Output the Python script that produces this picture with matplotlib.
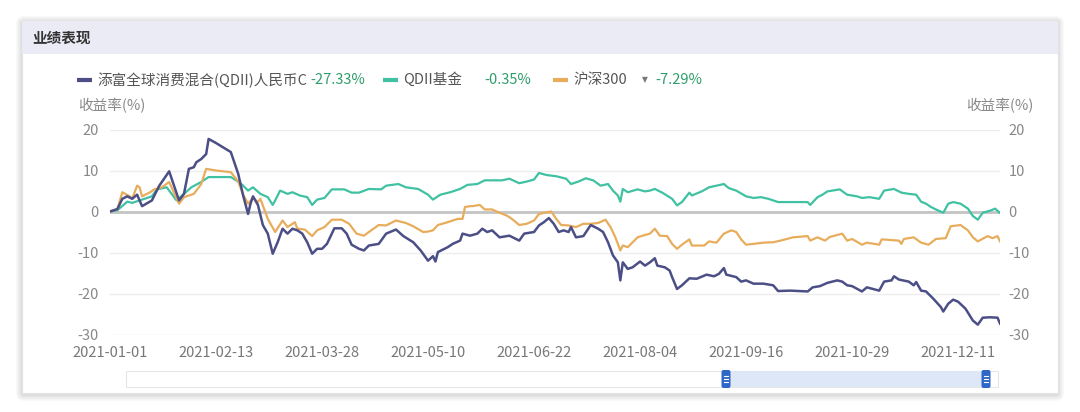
import matplotlib
matplotlib.use("Agg")
import matplotlib.pyplot as plt
from matplotlib.patches import Rectangle, FancyBboxPatch
import pandas as pd

plt.rcParams['font.family'] = ['Noto Sans CJK SC', 'DejaVu Sans']

# days since 2021-01-01, cumulative return in %
fund_day = [0, 3, 5, 7, 9, 11, 13, 17, 20, 24, 28, 30, 32, 34, 35, 37, 39, 40, 43, 49,
            52, 54, 56, 57, 58, 60, 62, 64, 66, 68, 70, 72, 74, 76, 78, 80, 82, 84, 86, 88,
            90, 91, 94, 96, 98, 101, 103, 105, 109, 112, 116, 119, 123, 126, 129, 131, 132, 133, 137, 139,
            142, 143, 146, 149, 151, 153, 155, 158, 162, 166, 168, 172, 174, 176, 178, 180, 182, 184, 186, 187,
            189, 192, 195, 198, 200, 202, 204, 206, 207, 208, 210, 212, 215, 217, 219, 221, 222, 225, 227, 228,
            230, 232, 235, 238, 242, 245, 247, 249, 250, 254, 256, 258, 261, 265, 269, 271, 276, 283, 285, 288,
            291, 295, 297, 299, 301, 305, 307, 312, 314, 317, 318, 320, 324, 326, 327, 329, 331, 334, 337, 338,
            340, 342, 344, 347, 350, 352, 354, 357, 360, 361]
fund_ret = [0, 0.6, 3.1, 3.7, 3.1, 4.1, 1.3, 2.7, 6.3, 9.8, 2.7, 4.3, 10.4, 10.8, 12.0, 12.8, 14.0, 17.7, 16.7, 14.5,
            9.2, 3.9, -0.6, 1.9, 3.7, 1.6, -3.3, -5.4, -10.3, -7.5, -4.2, -5.4, -4.2, -4.6, -5.4, -7.5, -10.3, -9.1, -9.1, -7.9,
            -5.4, -4.1, -4.1, -5.4, -8.1, -9.1, -9.5, -8.3, -7.9, -5.4, -4.4, -6.0, -7.5, -9.5, -12.0, -10.9, -12.2, -9.9, -8.7, -7.9,
            -7.1, -5.4, -5.9, -5.4, -4.2, -5.0, -4.6, -6.3, -5.9, -7.1, -5.4, -5.0, -3.4, -2.6, -1.6, -3.0, -5.0, -4.6, -5.0, -3.8,
            -6.3, -6.0, -3.3, -4.2, -5.0, -7.5, -10.7, -12.4, -16.8, -12.4, -14.0, -13.6, -12.2, -13.2, -12.4, -11.4, -13.2, -13.6, -14.4, -16.0,
            -18.9, -18.0, -16.3, -16.4, -15.4, -15.8, -15.2, -13.8, -15.4, -16.0, -17.1, -16.8, -17.6, -17.6, -18.0, -19.4, -19.3, -19.5, -18.5, -18.2,
            -17.4, -16.8, -17.1, -18.0, -18.2, -19.5, -18.5, -19.3, -17.1, -16.8, -15.8, -16.6, -17.1, -18.0, -17.2, -19.3, -19.5, -21.3, -23.3, -24.4,
            -22.5, -21.5, -22.0, -23.7, -26.6, -27.6, -25.9, -25.8, -25.9, -27.33]

qdii_day = [0, 3, 7, 9, 13, 17, 19, 23, 27, 30, 33, 37, 40, 49, 52, 54, 56, 58, 61, 64,
            66, 67, 69, 72, 74, 77, 80, 82, 84, 87, 90, 95, 98, 101, 105, 110, 112, 117, 120, 125,
            129, 131, 134, 138, 142, 145, 149, 152, 155, 159, 162, 166, 169, 172, 174, 177, 181, 185, 187, 190,
            193, 196, 199, 202, 204, 206, 207, 208, 210, 214, 217, 219, 221, 224, 228, 230, 232, 235, 236, 240,
            243, 246, 249, 251, 254, 258, 261, 264, 267, 271, 277, 283, 284, 287, 289, 291, 293, 296, 299, 303,
            305, 308, 312, 314, 318, 321, 324, 327, 329, 331, 333, 335, 338, 340, 342, 345, 348, 350, 352, 354,
            357, 359, 361]
qdii_ret = [0, 0.3, 2.4, 2.1, 2.9, 3.7, 5.4, 5.9, 2.7, 4.3, 5.9, 7.2, 8.4, 8.4, 7.3, 6.3, 5.1, 5.9, 4.3, 3.5,
            1.6, 2.7, 5.1, 4.3, 4.7, 3.9, 3.5, 1.6, 2.9, 3.3, 5.4, 5.4, 4.6, 4.6, 5.5, 5.4, 6.3, 6.7, 5.9, 5.5,
            4.1, 2.9, 4.1, 4.7, 5.5, 6.5, 6.7, 7.6, 7.6, 7.6, 8.0, 6.9, 7.3, 7.8, 9.4, 8.9, 8.6, 8.0, 6.7, 7.3,
            8.1, 7.6, 6.3, 6.7, 5.1, 3.9, 2.4, 5.5, 4.7, 5.4, 4.9, 5.1, 5.5, 4.6, 3.1, 1.5, 2.3, 4.6, 3.9, 4.9,
            5.9, 6.3, 6.7, 5.7, 5.1, 3.7, 3.3, 3.5, 3.1, 2.3, 2.3, 2.3, 1.6, 3.5, 4.1, 4.9, 5.1, 5.4, 4.1, 3.7,
            3.3, 3.5, 3.1, 5.1, 5.5, 4.6, 4.3, 4.1, 2.4, 1.9, 1.1, 0.5, -0.3, 1.9, 2.3, 1.9, 0.7, -1.1, -2.0, -0.3,
            0.2, 0.7, -0.35]

hs300_day = [0, 3, 5, 8, 9, 11, 12, 13, 16, 18, 21, 24, 28, 30, 34, 37, 39, 43, 49, 52,
             54, 56, 58, 60, 61, 64, 67, 70, 72, 75, 76, 79, 82, 84, 87, 90, 94, 97, 100, 103,
             105, 109, 112, 116, 120, 123, 127, 129, 131, 133, 137, 141, 143, 144, 146, 147, 150, 152, 155, 158,
             161, 163, 166, 169, 172, 174, 177, 179, 181, 183, 186, 189, 192, 195, 198, 201, 203, 205, 207, 208,
             210, 214, 216, 219, 221, 223, 226, 228, 230, 232, 235, 236, 241, 243, 246, 249, 252, 254, 256, 258,
             261, 265, 269, 272, 277, 283, 284, 287, 290, 292, 297, 299, 301, 305, 307, 312, 313, 320, 321, 322,
             326, 329, 332, 335, 339, 341, 345, 348, 350, 352, 356, 358, 360, 361]
hs300_ret = [0, 0.6, 4.7, 3.7, 3.1, 6.3, 5.9, 3.7, 4.6, 5.4, 5.9, 7.2, 1.9, 3.5, 4.3, 6.7, 10.4, 10.0, 9.6, 7.3,
             4.1, 1.9, 3.3, 2.3, 3.1, -1.8, -5.0, -2.2, -3.8, -2.6, -4.2, -4.4, -6.0, -4.6, -3.8, -2.0, -2.0, -3.0, -5.4, -5.9,
             -5.0, -3.3, -3.4, -2.2, -2.8, -3.6, -5.0, -4.9, -4.6, -3.3, -2.6, -1.8, -1.8, 1.1, 1.3, 1.3, 1.6, 0.5, 0.5, -0.3,
             -1.0, -1.8, -3.3, -3.0, -2.2, -0.6, -0.2, 0.0, -1.8, -3.3, -3.4, -3.8, -3.0, -3.0, -2.8, -2.0, -3.8, -6.3, -9.5, -8.3,
             -8.7, -6.3, -5.9, -5.4, -4.2, -5.9, -6.0, -7.9, -9.1, -8.1, -6.8, -8.3, -8.3, -7.3, -7.6, -5.4, -4.6, -5.0, -6.8, -8.1,
             -7.9, -7.6, -7.5, -7.1, -6.3, -6.0, -7.1, -6.3, -7.1, -6.2, -5.4, -7.1, -6.7, -8.1, -7.6, -8.1, -6.8, -7.1, -7.9, -6.7,
             -6.3, -7.6, -8.1, -6.7, -6.5, -3.6, -3.3, -4.6, -6.3, -7.3, -6.0, -6.5, -6.0, -7.29]

series_names = ['添富全球消费混合(QDII)人民币C', 'QDII基金', '沪深300']
series_final = ['-27.33%', '-0.35%', '-7.29%']
series_colors = ['#4b4f86', '#3fc1a2', '#e8ad5c']

x_labels = ['2021-01-01', '2021-02-13', '2021-03-28', '2021-05-10', '2021-06-22',
            '2021-08-04', '2021-09-16', '2021-10-29', '2021-12-11']
y_ticks = [20, 10, 0, -10, -20, -30]

start = pd.Timestamp('2021-01-01')
def to_dates(days):
    return start + pd.to_timedelta(days, unit='D')

W, H = 1080, 412
fig = plt.figure(figsize=(W / 100, H / 100), dpi=100)
fig.patch.set_facecolor('white')

# background layer in pixel coords
bg = fig.add_axes([0, 0, 1, 1])
bg.set_xlim(0, W)
bg.set_ylim(H, 0)
bg.axis('off')

# card shadow
for i, a in enumerate([0.05, 0.05, 0.05, 0.06, 0.07, 0.08]):
    d = 6 - i
    bg.add_patch(FancyBboxPatch((22 - d, 20 - d + 2), 1036 + 2 * d, 373 + 2 * d,
                                boxstyle='round,pad=0,rounding_size=%d' % (d + 2),
                                fc='#9a9a9a', ec='none', alpha=a))
bg.add_patch(Rectangle((22, 20), 1036, 373, fc='white', ec='#e2e2e2', lw=0.8))
bg.add_patch(Rectangle((22, 21), 1036, 33, fc='#ebebf6', ec='none'))
bg.text(32, 38, '业绩表现', fontsize=10.5, fontweight='bold', color='#333333',
        ha='left', va='center')

# legend
leg_y = 80
leg_items = [(77, 97, 310), (383, 403, 484), (553, 573, 655)]
for (lx, tx, vx), name, val, col in zip(leg_items, series_names, series_final, series_colors):
    bg.plot([lx, lx + 15], [leg_y, leg_y], color=col, lw=3, solid_capstyle='butt')
    bg.text(tx, leg_y, name, fontsize=10.5, color='#555555', ha='left', va='center')
    bg.text(vx, leg_y, val, fontsize=10.5, color='#2e9d6c', ha='left', va='center')
bg.text(645, leg_y, '▼', fontsize=5.5, color='#777777', ha='center', va='center',
        family=['DejaVu Sans'])

bg.text(78, 106, '收益率(%)', fontsize=10.5, color='#888888', ha='left', va='center')
bg.text(1033, 106, '收益率(%)', fontsize=10.5, color='#888888', ha='right', va='center')

# data zoom slider
bg.add_patch(Rectangle((126, 371), 872, 16, fc='white', ec='#e6e6e6', lw=0.8))
bg.add_patch(Rectangle((726, 371), 260, 16, fc='#dde7f7', ec='none'))
for hx in [726, 986]:
    bg.add_patch(FancyBboxPatch((hx - 4.5, 370), 9, 18, boxstyle='round,pad=0,rounding_size=2',
                                fc='#2f67c9', ec='none'))
    for dy in [-3, 0, 3]:
        bg.plot([hx - 2, hx + 2], [379 + dy, 379 + dy], color='white', lw=0.8)

# main chart
ax = fig.add_axes([110 / W, 1 - 334.5 / H, 890 / W, 205 / H])
ax.patch.set_alpha(0)
ax.plot(to_dates(fund_day), fund_ret, color=series_colors[0], lw=1.8, zorder=4)
ax.plot(to_dates(qdii_day), qdii_ret, color=series_colors[1], lw=1.6, zorder=3)
ax.plot(to_dates(hs300_day), hs300_ret, color=series_colors[2], lw=1.6, zorder=3)
ax.axhline(0, color='#c4c4c4', lw=2, zorder=2)

ax.set_xlim(start, to_dates([361])[0])
ax.set_ylim(-30, 20)
ax.set_yticks(y_ticks)
ax.set_yticklabels([str(v) for v in y_ticks])
ax.set_xticks(pd.to_datetime(x_labels))
ax.set_xticklabels(x_labels)
ax.grid(axis='y', color='#ededed', lw=1, zorder=0)
for s in ax.spines.values():
    s.set_visible(False)
ax.tick_params(axis='y', length=0, pad=8, labelsize=10.5, labelcolor='#888888')
ax.tick_params(axis='x', length=0, pad=8, labelsize=10.5, labelcolor='#777777')

ax2 = ax.twinx()
ax2.set_ylim(-30, 20)
ax2.set_yticks(y_ticks)
ax2.set_yticklabels([str(v) for v in y_ticks])
for s in ax2.spines.values():
    s.set_visible(False)
ax2.tick_params(axis='y', length=0, pad=6, labelsize=10.5, labelcolor='#888888')

fig.savefig('out.png', dpi=100)
